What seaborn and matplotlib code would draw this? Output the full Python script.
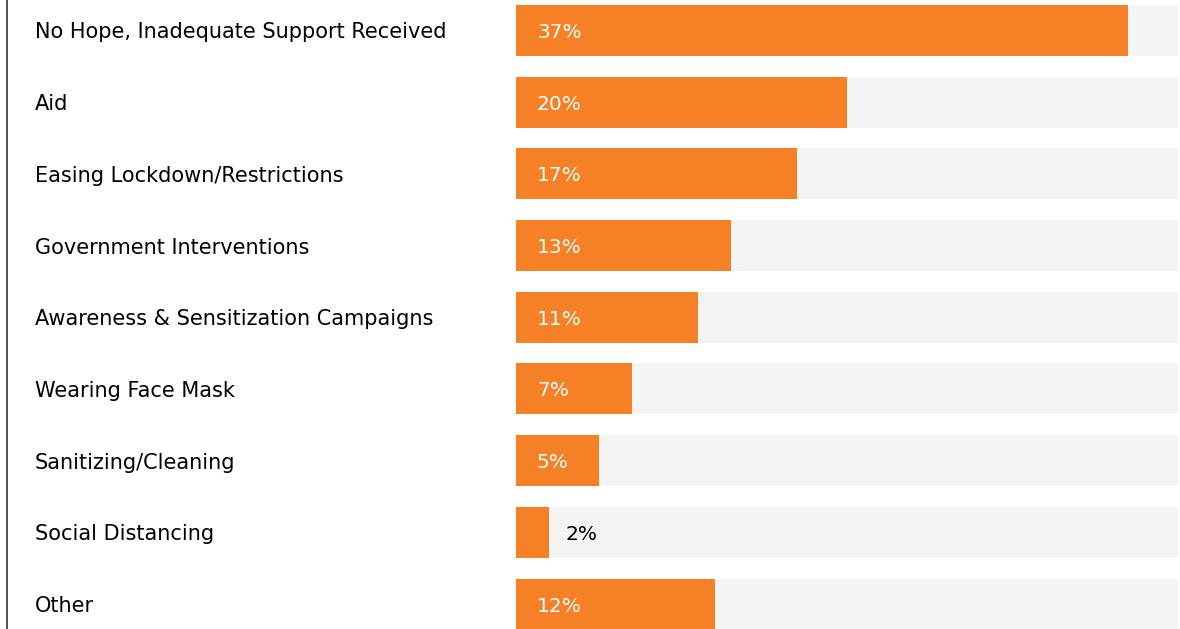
import pandas as pd
import matplotlib.pyplot as plt
import seaborn as sb

# Chart data
categories = ['No Hope, Inadequate Support Received', 'Aid', 'Easing Lockdown/Restrictions',
              'Government Interventions', 'Awareness & Sensitization Campaigns',
              'Wearing Face Mask', 'Sanitizing/Cleaning', 'Social Distancing', 'Other']
values = [37, 20, 17, 13, 11, 7, 5, 2, 12]
scale_max = 40

df = pd.DataFrame({'category': categories, 'value': values})
df['track'] = scale_max

orange = '#f58025'
track_grey = '#f4f4f4'

sb.set_style('white')
plt.rcParams['font.family'] = ['DejaVu Sans']

fig = plt.figure(figsize=(11.8, 6.29), dpi=100)
ax = fig.add_axes([516 / 1180, 0, 662 / 1180, 1])

# background track, then the value bars
sb.barplot(data=df, x='track', y='category', color=track_grey, width=0.711,
           saturation=1, linewidth=0, ax=ax)
sb.barplot(data=df, x='value', y='category', color=orange, width=0.711,
           saturation=1, linewidth=0, ax=ax)

ax.set_xlim(0, scale_max)
ax.set_ylim(8.348, -0.425)
ax.set_xlabel('')
ax.set_ylabel('')
ax.set_xticks([])
ax.set_yticks([])
for s in ax.spines.values():
    s.set_visible(False)

# value labels
px = scale_max / 662
dy = 2 / 71.75  # text sits a touch below the bar centre
for i, v in enumerate(values):
    if v / px > 60:
        ax.text(21 * px, i + dy, f'{v}%', color='white', fontsize=14.5, va='center', ha='left')
    else:
        ax.text(v + 16 * px, i + dy, f'{v}%', color='black', fontsize=14.5, va='center', ha='left')

# category labels on the left
for i, c in enumerate(categories):
    ax.text(-(516 - 35) * px, i + dy, c, color='black', fontsize=15, va='center',
            ha='left', clip_on=False)

# thin vertical line at the far left
fig.add_artist(plt.Line2D([6.5 / 1180, 6.5 / 1180], [0, 1], color='#333333', linewidth=1.2))

plt.savefig('out.png', dpi=100)
